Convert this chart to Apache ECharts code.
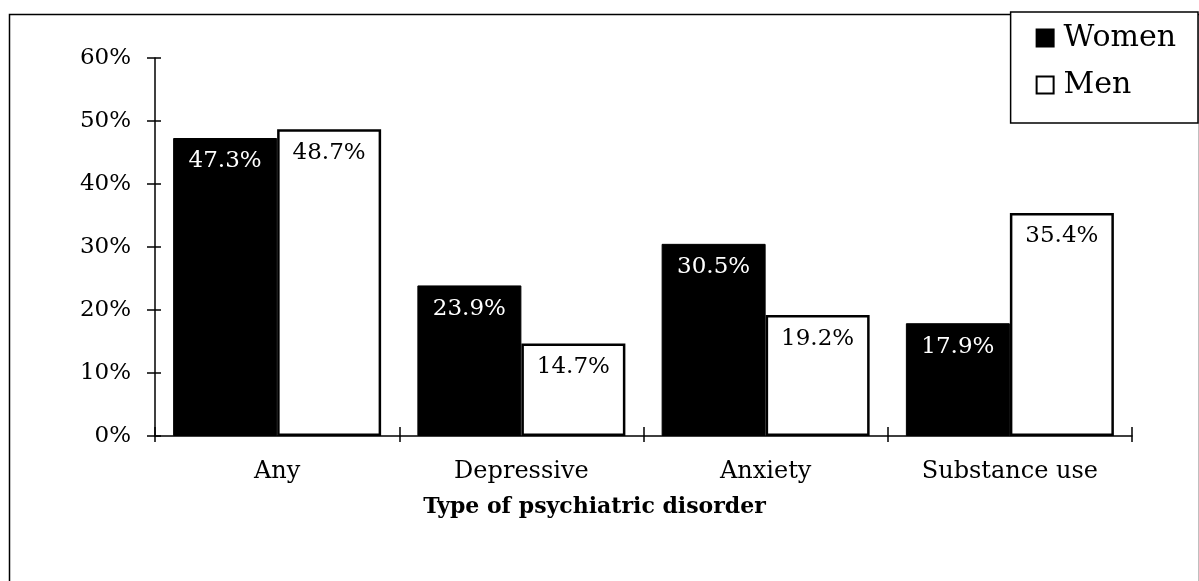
<!DOCTYPE html>
<html>
<head>
<meta charset="utf-8">
<script src="https://cdn.jsdelivr.net/npm/echarts@6/dist/echarts.min.js"></script>
<style>
  html, body { margin: 0; padding: 0; background: #fff; }
  #chart { width: 1199px; height: 581px; }
</style>
</head>
<body>
<div id="chart"></div>
<script>
// categories and values
const categories = ['Any', 'Depressive', 'Anxiety', 'Substance use'];
const women = [47.3, 23.9, 30.5, 17.9];
const men = [48.7, 14.7, 19.2, 35.4];

const font = 'DejaVu Serif';

const myChart = echarts.init(document.getElementById('chart'));

const option = {
  backgroundColor: '#fff',
  animation: false,
  textStyle: { fontFamily: font, color: '#000' },
  graphic: [{
    // outer frame of the figure
    type: 'rect',
    left: 7,
    top: 12,
    shape: { width: 1190, height: 620 },
    style: { fill: 'none', stroke: '#000', lineWidth: 1.5 },
    silent: true
  }],
  legend: {
    orient: 'vertical',
    right: 1,
    top: 12,
    icon: 'rect',
    itemWidth: 17,
    itemHeight: 17,
    itemGap: 17,
    padding: [11, 22, 23, 25],
    borderColor: '#000',
    borderWidth: 1.5,
    backgroundColor: '#fff',
    textStyle: { fontFamily: font, fontSize: 30, color: '#000', padding: [0, 0, 0, 5] },
    data: ['Women', 'Men']
  },
  grid: { left: 155, right: 67, top: 58, bottom: 145 },
  xAxis: [{
    type: 'category',
    data: categories,
    axisLine: { lineStyle: { color: '#000', width: 1.5 } },
    axisTick: { show: false },
    axisLabel: { fontFamily: font, fontSize: 24, color: '#000', margin: 24 },
    name: 'Type of psychiatric disorder',
    nameLocation: 'middle',
    nameGap: 60,
    nameTextStyle: {
      fontFamily: font,
      fontSize: 22,
      fontWeight: 'bold',
      color: '#000',
      padding: [0, 98, 0, 0]
    }
  }, {
    // shifted up into the grid so its ticks cross the axis line
    type: 'category',
    position: 'bottom',
    offset: -9,
    data: categories,
    axisLine: { show: false },
    axisTick: { show: true, length: 15, lineStyle: { color: '#000', width: 1.5 } },
    axisLabel: { show: false }
  }],
  yAxis: [{
    type: 'value',
    min: 0,
    max: 60,
    interval: 10,
    axisLine: { show: true, lineStyle: { color: '#000', width: 1.5 } },
    axisTick: { show: false },
    splitLine: { show: false },
    axisLabel: { formatter: '{value}%', fontFamily: font, fontSize: 23, color: '#000', margin: 24 }
  }, {
    // shifted right into the grid so its ticks cross the axis line
    type: 'value',
    position: 'left',
    offset: -6,
    min: 0,
    max: 60,
    interval: 10,
    axisLine: { show: false },
    axisTick: { show: true, length: 14, lineStyle: { color: '#000', width: 1.5 } },
    splitLine: { show: false },
    axisLabel: { show: false }
  }],
  series: [{
    name: 'Women',
    type: 'bar',
    data: women,
    barWidth: 104,
    barGap: '0%',
    itemStyle: { color: '#000', borderColor: '#000', borderWidth: 1 },
    label: {
      show: true,
      position: 'insideTop',
      distance: 12,
      formatter: '{c}%',
      fontFamily: font,
      fontSize: 23,
      color: '#fff'
    }
  }, {
    name: 'Men',
    type: 'bar',
    data: men,
    barWidth: 104,
    itemStyle: { color: '#fff', borderColor: '#000', borderWidth: 2.5 },
    label: {
      show: true,
      position: 'insideTop',
      distance: 12,
      formatter: '{c}%',
      fontFamily: font,
      fontSize: 23,
      color: '#000'
    }
  }]
};

myChart.setOption(option);
</script>
</body>
</html>
